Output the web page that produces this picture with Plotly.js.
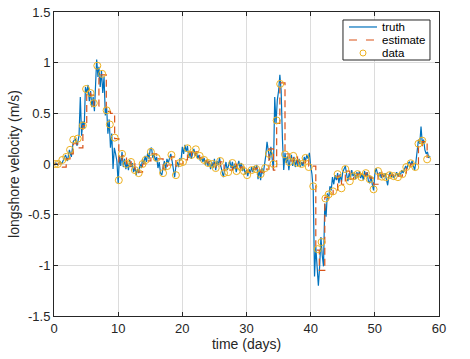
<!DOCTYPE html>
<html>
<head>
<meta charset="utf-8">
<script src="https://cdn.plot.ly/plotly-3.0.1.min.js"></script>
<style>
  html, body { margin: 0; padding: 0; background: #ffffff; }
  #grafik { width: 470px; height: 359px; }
</style>
</head>
<body>
<div id="grafik"></div>
<script>
/* ==========================================================
   DATA
========================================================== */
const truthT = [
  0.0, 0.3, 0.6, 0.9, 1.2, 1.5, 1.8, 2.1, 2.4, 2.7, 3.0, 3.3, 3.6, 3.9, 4.1, 4.3, 4.5, 4.7, 4.9, 5.1,
  5.3, 5.5, 5.7, 5.9, 6.1, 6.3, 6.5, 6.65, 6.85, 7.0, 7.2, 7.4, 7.6, 7.8, 8.0, 8.2, 8.4, 8.6, 8.8, 9.0,
  9.2, 9.4, 9.6, 9.8, 10.0, 10.2, 10.4, 10.6, 10.8, 11.0, 11.2, 11.4, 11.6, 11.8, 12.0, 12.2, 12.4, 12.6, 12.8, 13.0,
  13.2, 13.4, 13.6, 13.8, 14.0, 14.2, 14.4, 14.6, 14.8, 15.0, 15.2, 15.4, 15.6, 15.8, 16.0, 16.2, 16.4, 16.6, 16.8, 17.0,
  17.2, 17.4, 17.6, 17.8, 18.0, 18.2, 18.4, 18.6, 18.8, 19.0, 19.2, 19.4, 19.6, 19.8, 20.0, 20.2, 20.4, 20.6, 20.8, 21.0,
  21.2, 21.4, 21.6, 21.8, 22.0, 22.2, 22.4, 22.6, 22.8, 23.0, 23.2, 23.4, 23.6, 23.8, 24.0, 24.2, 24.4, 24.6, 24.8, 25.0,
  25.2, 25.4, 25.6, 25.8, 26.0, 26.2, 26.4, 26.6, 26.8, 27.0, 27.2, 27.4, 27.6, 27.8, 28.0, 28.2, 28.4, 28.6, 28.8, 29.0,
  29.2, 29.4, 29.6, 29.8, 30.0, 30.2, 30.4, 30.6, 30.8, 31.0, 31.2, 31.4, 31.6, 31.8, 32.0, 32.2, 32.4, 32.6, 32.8, 33.0,
  33.2, 33.4, 33.6, 33.8, 34.0, 34.2, 34.4, 34.6, 34.8, 35.0, 35.2, 35.4, 35.6, 35.8, 36.0, 36.2, 36.4, 36.6, 36.8, 37.0,
  37.2, 37.4, 37.6, 37.8, 38.0, 38.2, 38.4, 38.6, 38.8, 39.0, 39.2, 39.4, 39.6, 39.8, 40.0, 40.2, 40.4, 40.6, 40.8, 41.0,
  41.2, 41.4, 41.6, 41.8, 42.0, 42.2, 42.4, 42.6, 42.8, 43.0, 43.2, 43.4, 43.6, 43.8, 44.0, 44.2, 44.4, 44.6, 44.8, 45.0,
  45.2, 45.4, 45.6, 45.8, 46.0, 46.2, 46.4, 46.6, 46.8, 47.0, 47.2, 47.4, 47.6, 47.8, 48.0, 48.2, 48.4, 48.6, 48.8, 49.0,
  49.2, 49.4, 49.6, 49.8, 50.0, 50.2, 50.4, 50.6, 50.8, 51.0, 51.2, 51.4, 51.6, 51.8, 52.0, 52.2, 52.4, 52.6, 52.8, 53.0,
  53.2, 53.4, 53.6, 53.8, 54.0, 54.2, 54.4, 54.6, 54.8, 55.0, 55.2, 55.4, 55.6, 55.8, 56.0, 56.2, 56.4, 56.6, 56.8, 57.0,
  57.2, 57.4, 57.6, 57.8, 58.0, 58.2, 58.4, 58.6
];
const truthV = [
  0.00, 0.01, -0.01, 0.03, 0.00, 0.05, 0.09, 0.03, 0.14, 0.07, 0.22, 0.25, 0.18, 0.28, 0.66, 0.28, 0.42, 0.35, 0.76, 0.70,
  0.78, 0.62, 0.72, 0.56, 0.66, 0.52, 0.75, 1.03, 0.86, 0.96, 0.76, 0.92, 0.70, 0.86, 0.48, 0.56, 0.30, 0.44, 0.16, 0.30,
  -0.05, 0.16, 0.10, 0.03, -0.19, 0.08, -0.02, 0.12, -0.03, 0.05, -0.05, 0.02, -0.06, 0.04, -0.03, 0.01, -0.08, -0.03, -0.11, -0.05,
  -0.09, 0.00, -0.04, 0.05, 0.00, 0.08, 0.02, 0.11, 0.05, 0.15, 0.16, 0.06, 0.10, 0.03, 0.07, -0.04, 0.02, -0.09, -0.11, -0.04,
  0.03, -0.06, 0.05, 0.01, 0.07, 0.10, 0.03, -0.08, -0.13, -0.02, 0.02, -0.03, 0.05, 0.04, 0.17, 0.10, 0.19, 0.12, 0.18, 0.06,
  0.12, 0.05, 0.10, 0.15, 0.08, 0.12, 0.05, 0.09, 0.03, 0.07, 0.02, 0.06, -0.01, 0.04, -0.02, 0.03, -0.05, 0.02, -0.04, 0.05,
  -0.06, 0.03, -0.01, 0.06, -0.02, -0.08, -0.13, -0.05, 0.02, -0.06, -0.02, 0.03, -0.04, 0.02, -0.05, 0.00, -0.08, -0.02, 0.03, -0.04,
  0.01, -0.07, -0.03, -0.10, -0.06, -0.12, -0.05, -0.09, -0.03, -0.08, -0.02, -0.06, -0.01, -0.15, -0.05, -0.16, -0.04, -0.10, -0.02, 0.08,
  0.22, 0.10, 0.04, 0.17, 0.05, -0.06, 0.66, 0.40, 0.63, 0.72, 0.88, 0.72, 0.25, -0.06, 0.11, 0.01, 0.08, -0.06, 0.04, 0.09,
  -0.02, 0.07, -0.03, 0.04, -0.02, 0.05, -0.03, 0.02, -0.02, 0.07, 0.03, 0.09, 0.05, 0.11, -0.02, -0.10, -0.26, -1.11, -0.82, -1.05,
  -1.20, -1.01, -0.72, -0.90, -1.01, -0.39, -0.52, -0.29, -0.35, -0.22, -0.26, -0.13, -0.20, -0.11, -0.16, -0.09, -0.19, -0.10, -0.18, -0.08,
  -0.04, -0.02, -0.10, -0.17, -0.09, -0.14, -0.06, -0.12, -0.09, -0.15, -0.08, -0.13, -0.07, -0.14, -0.10, -0.16, -0.07, -0.12, -0.08, -0.17,
  -0.19, -0.12, -0.20, -0.26, -0.10, -0.04, -0.09, -0.13, -0.08, -0.14, -0.10, -0.13, -0.09, -0.15, -0.21, -0.11, -0.08, -0.13, -0.10, -0.14,
  -0.11, -0.08, -0.12, -0.09, -0.11, -0.06, -0.09, -0.04, -0.02, -0.05, 0.01, 0.02, -0.01, 0.03, -0.03, -0.06, 0.02, 0.16, 0.24, 0.20,
  0.37, 0.20, 0.24, 0.14, 0.10, 0.12, 0.06, 0.08
];

// estimasi (garis putus-putus, bentuk tangga)
const estT = [
  0.0, 0.6, 1.3, 1.9, 2.5, 3.0, 3.7, 4.5, 5.1, 5.7, 6.2, 7.0, 8.15, 8.8, 9.45, 10.1, 10.6, 11.3, 12.0, 12.6,
  13.2, 13.8, 14.3, 15.1, 16.0, 17.0, 17.65, 18.3, 19.0, 19.6, 20.1, 20.8, 21.45, 22.1, 22.7, 23.4, 24.0, 24.7, 25.2, 25.9,
  26.5, 27.15, 27.8, 28.45, 29.1, 29.6, 30.1, 30.8, 31.5, 32.2, 32.9, 33.5, 34.2, 34.7, 35.2, 36.0, 36.65, 37.3, 37.95, 38.6,
  39.2, 39.7, 40.8, 41.35, 42.2, 42.8, 43.5, 44.2, 44.8, 45.4, 46.1, 46.7, 47.3, 47.9, 48.6, 49.2, 49.8, 50.5, 51.1, 51.7,
  52.3, 52.95, 53.6, 54.3, 54.9, 55.6, 56.3, 56.8, 57.4, 58.15
];
const estV = [
  0.00, 0.00, -0.03, 0.05, 0.10, 0.20, 0.16, 0.38, 0.70, 0.68, 0.57, 0.88, 0.52, 0.50, 0.25, 0.02, 0.08, -0.02, 0.02, -0.05,
  -0.08, 0.00, 0.03, 0.10, 0.05, -0.05, -0.01, 0.07, -0.02, 0.00, 0.04, 0.12, 0.08, 0.12, 0.06, 0.03, 0.01, 0.00, -0.03, 0.02,
  -0.06, -0.06, 0.00, -0.05, -0.03, -0.06, -0.08, -0.05, -0.04, -0.08, -0.05, 0.15, -0.06, 0.40, 0.80, 0.10, 0.03, 0.07, 0.01, 0.01,
  0.05, -0.02, -0.85, -1.05, -0.33, -0.30, -0.26, -0.12, -0.20, -0.07, -0.15, -0.11, -0.10, -0.12, -0.09, -0.14, -0.20, -0.08, -0.12, -0.12,
  -0.11, -0.11, -0.12, -0.09, -0.04, 0.00, 0.00, 0.18, 0.22, 0.06
];

// data pengamatan (lingkaran)
const dataT = [
  0.2, 0.6, 1.3, 1.9, 2.5, 3.0, 3.7, 4.5, 5.0, 5.7, 6.2, 6.75, 7.5, 8.2, 8.7, 9.45, 10.1, 10.6, 11.3, 12.0,
  12.6, 13.2, 13.8, 14.3, 15.1, 16.0, 17.0, 17.65, 18.3, 19.0, 19.6, 20.1, 20.8, 21.45, 22.1, 22.7, 23.4, 24.0, 24.7, 25.2,
  25.9, 26.5, 27.15, 27.8, 28.45, 29.1, 29.6, 30.1, 30.8, 31.5, 32.2, 32.9, 33.5, 34.2, 34.7, 35.25, 36.0, 36.65, 37.3, 37.95,
  38.6, 39.2, 39.7, 40.4, 41.1, 41.7, 42.3, 42.8, 43.5, 44.2, 44.8, 45.4, 46.1, 46.7, 47.3, 47.9, 48.6, 49.2, 49.8, 50.5,
  51.1, 51.7, 52.3, 52.95, 53.6, 54.3, 54.9, 55.6, 56.3, 56.8, 57.4, 58.15
];
const dataV = [
  0.00, 0.00, 0.04, 0.07, 0.14, 0.24, 0.25, 0.38, 0.74, 0.70, 0.60, 0.97, 0.89, 0.53, 0.39, 0.26, -0.16, 0.10, 0.00, 0.02,
  -0.06, -0.09, 0.00, 0.04, 0.12, 0.06, -0.09, -0.02, 0.09, -0.11, 0.01, 0.02, 0.155, 0.09, 0.145, 0.08, 0.04, 0.01, 0.00, -0.04,
  0.03, -0.09, -0.08, 0.01, -0.07, -0.03, -0.07, -0.11, -0.06, -0.05, -0.10, -0.04, 0.10, 0.00, 0.43, 0.79, 0.095, 0.02, 0.08, 0.01,
  0.00, 0.06, -0.03, -0.22, -0.84, -0.77, -0.34, -0.30, -0.27, -0.10, -0.24, -0.05, -0.17, -0.12, -0.10, -0.13, -0.09, -0.15, -0.25, -0.07,
  -0.125, -0.13, -0.11, -0.12, -0.13, -0.10, -0.03, 0.007, -0.03, 0.20, 0.23, 0.046
];

const xTicks = [0, 10, 20, 30, 40, 50, 60];
const yTicks = [-1.5, -1, -0.5, 0, 0.5, 1, 1.5];
const yTickText = ["-1.5", "-1", "-0.5", "0", "0.5", "1", "1.5"];
const legendNames = ["truth", "estimate", "data"];

/* ==========================================================
   WARNA & FONT
========================================================== */
const biru = "#0072BD";
const oranye = "#D95319";
const kuning = "#EDB120";
const hitam = "#262626";
const hurufDasar = "Liberation Sans, Arial, sans-serif";

/* ==========================================================
   TRACE
========================================================== */
const traceTruth = {
  x: truthT,
  y: truthV,
  mode: "lines",
  name: legendNames[0],
  line: { color: biru, width: 1.2 },
  showlegend: false
};

const traceEstimate = {
  x: estT,
  y: estV,
  mode: "lines",
  name: legendNames[1],
  line: { color: oranye, width: 1.2, dash: "7px,4px", shape: "hv" },
  showlegend: false
};

const traceData = {
  x: dataT,
  y: dataV,
  mode: "markers",
  name: legendNames[2],
  marker: { symbol: "circle-open", color: kuning, size: 7, line: { width: 1, color: kuning } },
  showlegend: false
};

/* ==========================================================
   LEGENDA (kotak kecil gaya MATLAB)
========================================================== */
const legX0 = 0.7506, legX1 = 0.9766, legYTop = 0.9737, legYBot = 0.8421;
const sampelX0 = 0.7662, sampelX1 = 0.8390, teksX = 0.8494;
const barisY = [0.9507, 0.9079, 0.8651];

const shapesLegenda = [
  {
    type: "rect", xref: "paper", yref: "paper",
    x0: legX0, x1: legX1, y0: legYBot, y1: legYTop,
    fillcolor: "#ffffff", line: { color: hitam, width: 1 }, layer: "above"
  },
  {
    type: "line", xref: "paper", yref: "paper",
    x0: sampelX0, x1: sampelX1, y0: barisY[0], y1: barisY[0],
    line: { color: biru, width: 1.2 }, layer: "above"
  },
  {
    type: "line", xref: "paper", yref: "paper",
    x0: sampelX0, x1: sampelX1, y0: barisY[1], y1: barisY[1],
    line: { color: oranye, width: 1.2, dash: "8px,9px" }, layer: "above"
  },
  {
    type: "circle", xref: "paper", yref: "paper",
    xsizemode: "pixel", ysizemode: "pixel",
    xanchor: (sampelX0 + sampelX1) / 2, yanchor: barisY[2],
    x0: -3, x1: 3, y0: -3, y1: 3,
    line: { color: kuning, width: 1 }, layer: "above"
  }
];

const teksLegenda = legendNames.map((nama, i) => ({
  text: nama,
  xref: "paper", yref: "paper",
  x: teksX, y: barisY[i],
  xanchor: "left", yanchor: "middle",
  showarrow: false,
  borderpad: 0,
  font: { family: hurufDasar, size: 11.5, color: "#000000" }
}));

/* ==========================================================
   LAYOUT
========================================================== */
const sumbuUmum = {
  showline: true,
  linecolor: hitam,
  linewidth: 1,
  mirror: "ticks",
  ticks: "inside",
  ticklen: 4,
  tickwidth: 1,
  tickcolor: hitam,
  showgrid: true,
  gridcolor: "#dcdcdc",
  gridwidth: 1,
  zeroline: false,
  tickfont: { family: hurufDasar, size: 13, color: hitam }
};

const layout = {
  width: 470,
  height: 359,
  margin: { l: 54, r: 31, t: 12, b: 43 },
  paper_bgcolor: "#ffffff",
  plot_bgcolor: "#ffffff",
  showlegend: false,
  xaxis: Object.assign({}, sumbuUmum, {
    range: [0, 60],
    tickvals: xTicks,
    title: { text: "time (days)", standoff: 2, font: { family: hurufDasar, size: 14, color: hitam } }
  }),
  yaxis: Object.assign({}, sumbuUmum, {
    range: [-1.5, 1.5],
    tickvals: yTicks,
    ticktext: yTickText,
    title: { text: "longshore velocity (m/s)", standoff: 5, font: { family: hurufDasar, size: 14, color: hitam } }
  }),
  shapes: shapesLegenda,
  annotations: teksLegenda
};

Plotly.newPlot("grafik", [traceTruth, traceEstimate, traceData], layout, {
  displayModeBar: false,
  staticPlot: true
});
</script>
</body>
</html>
